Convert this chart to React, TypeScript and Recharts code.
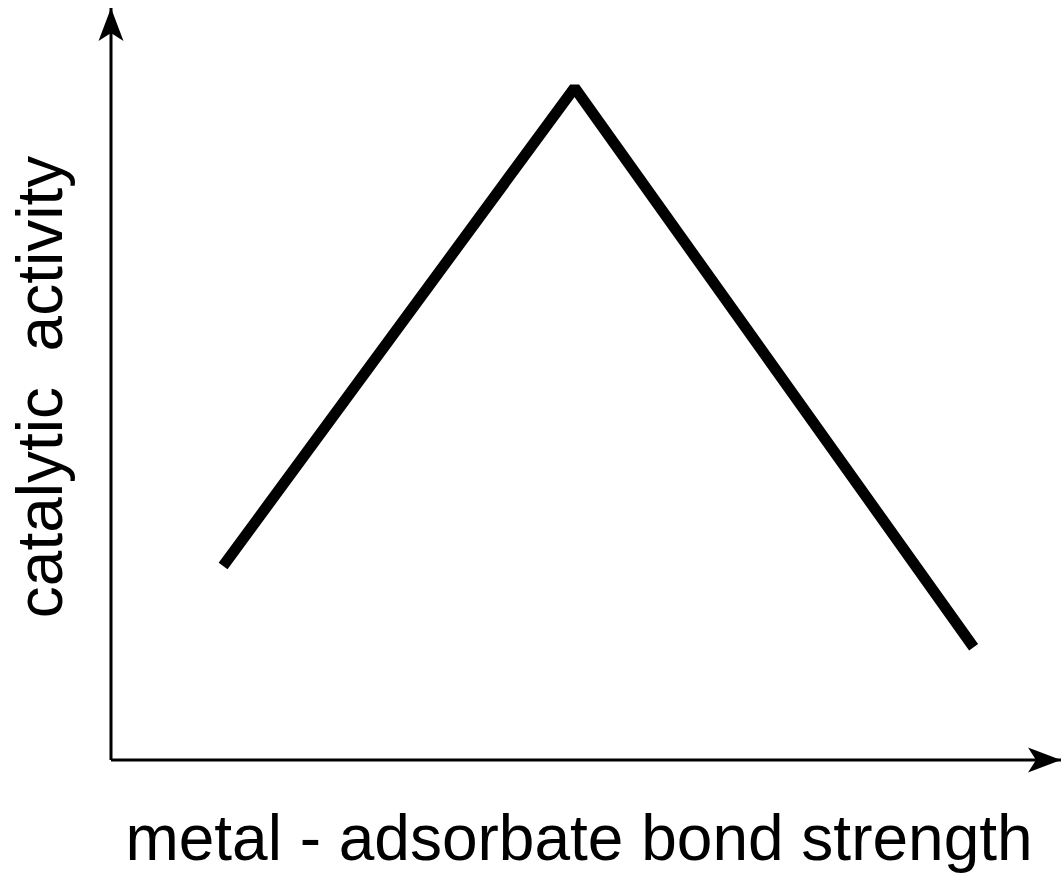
import React from "react";
import { LineChart, Line, XAxis, YAxis, Label } from "recharts";

// metal - adsorbate bond strength (arbitrary units)
const bondStrength = [11.8, 48.8, 90.8];
// catalytic activity (arbitrary units)
const activity = [25.8, 89.4, 15.0];
const xLabel = "metal - adsorbate bond strength";
const yLabel = "catalytic\u00a0\u00a0activity";

const data = bondStrength.map((x, i) => ({ x, y: activity[i] }));

const FONT = "'Liberation Sans', Arial, sans-serif";

export default function App() {
  return (
    <div style={{ position: "absolute", left: 0, top: 0, width: 1061, height: 877, background: "#fff" }}>
      <LineChart
        width={1061}
        height={877}
        data={data}
        margin={{ top: 8, right: 0, bottom: 116, left: 110 }}
      >
        <defs>
          <marker
            id="arrowHead"
            markerUnits="userSpaceOnUse"
            viewBox="-40 -20 40 40"
            refX={0}
            refY={0}
            markerWidth={40}
            markerHeight={40}
            orient="auto-start-reverse"
            style={{ overflow: "visible" }}
          >
            <path d="M0,0 L-33,-12.5 L-25,0 L-33,12.5 Z" fill="#000" />
          </marker>
        </defs>
        <XAxis
          dataKey="x"
          type="number"
          domain={[0, 100]}
          height={1}
          tick={false}
          tickLine={false}
          axisLine={{ stroke: "#000", strokeWidth: 3, markerEnd: "url(#arrowHead)" }}
        >
          <Label
            content={() => (
              <text x={579} y={860} textAnchor="middle" fontFamily={FONT} fontSize={64} fill="#000">
                {xLabel}
              </text>
            )}
          />
        </XAxis>
        <YAxis
          type="number"
          domain={[0, 100]}
          width={1}
          tick={false}
          tickLine={false}
          axisLine={{ stroke: "#000", strokeWidth: 3, markerStart: "url(#arrowHead)" }}
        >
          <Label
            content={() => (
              <text
                x={62}
                y={387}
                transform="rotate(-90 62 387)"
                textAnchor="middle"
                fontFamily={FONT}
                fontSize={64}
                fill="#000"
              >
                {yLabel}
              </text>
            )}
          />
        </YAxis>
        <Line
          type="linear"
          dataKey="y"
          stroke="#000"
          strokeWidth={11}
          strokeLinejoin="bevel"
          strokeLinecap="butt"
          dot={false}
          activeDot={false}
          isAnimationActive={false}
        />
      </LineChart>
    </div>
  );
}
